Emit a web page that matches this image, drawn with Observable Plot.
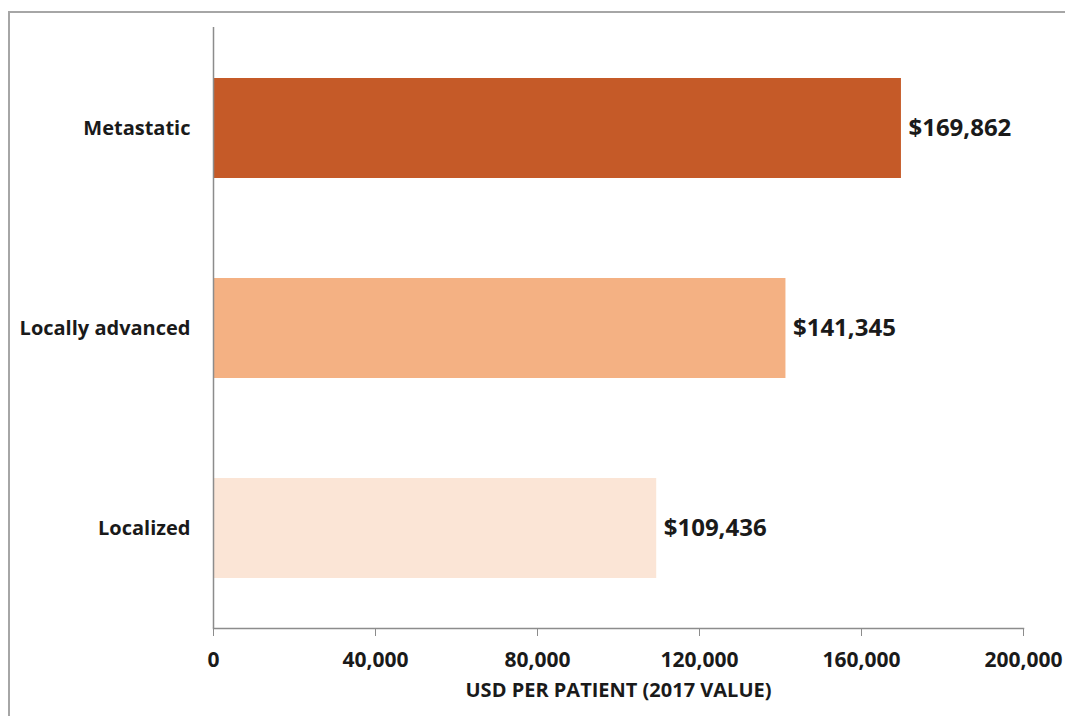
<!DOCTYPE html>
<html>
<head>
<meta charset="utf-8">
<script src="https://cdn.jsdelivr.net/npm/d3@7"></script>
<script src="https://cdn.jsdelivr.net/npm/@observablehq/plot@0.6"></script>
<style>
  html, body { margin: 0; padding: 0; background: #fff; overflow: hidden; }
  #wrap { position: relative; width: 1065px; height: 716px; overflow: hidden; }
  #frame { position: absolute; left: 8px; top: 11px; width: 1070px; height: 720px;
           border-top: 2px solid #a6a6a6; border-left: 2px solid #a6a6a6; box-sizing: border-box; }
  #chart { position: absolute; left: 0; top: 0; }
  svg { font-family: "Open Sans", "Noto Sans", sans-serif; }
</style>
</head>
<body>
<div id="wrap"><div id="frame"></div><div id="chart"></div></div>
<script>
const categories = ["Metastatic", "Locally advanced", "Localized"];
const values = [169862, 141345, 109436];
const barColors = ["#C55A28", "#F4B183", "#FBE5D6"];
const xTicks = [0, 40000, 80000, 120000, 160000, 200000];
const xTitle = "USD PER PATIENT (2017 VALUE)";

const data = categories.map((c, i) => ({category: c, value: values[i]}));
const fmt = d3.format(",");

const chart = Plot.plot({
  width: 1065,
  height: 716,
  marginLeft: 213,
  marginRight: 42,
  marginTop: 27,
  marginBottom: 88,
  style: {background: "transparent", color: "#1a1a1a"},
  x: {domain: [0, 200000], axis: null},
  y: {domain: categories, paddingInner: 0.5, paddingOuter: 0.25, axis: null},
  color: {domain: categories, range: barColors},
  marks: [
    Plot.barX(data, {y: "category", x: "value", fill: "category"}),
    Plot.text(data, {y: "category", x: "value", text: d => "$" + fmt(d.value),
      textAnchor: "start", dx: 7, fontSize: 24, fontWeight: "bold", fill: "#1a1a1a"}),
    Plot.axisY({tickSize: 0, tickPadding: 23, fontSize: 20, fontWeight: "bold", label: null}),
    Plot.axisX({ticks: xTicks, tickFormat: fmt, tickSize: 8, tickPadding: 16,
      fontSize: 21, fontWeight: "bold", label: null, stroke: "#8c8c8c"}),
    Plot.ruleX([0], {stroke: "#8c8c8c", strokeWidth: 1.5}),
    Plot.frame({anchor: "bottom", stroke: "#8c8c8c", strokeWidth: 1.5}),
    Plot.text([xTitle], {frameAnchor: "bottom", dy: 68, fontSize: 20, fontWeight: "bold", fill: "#1a1a1a"})
  ]
});
document.getElementById("chart").appendChild(chart);
</script>
</body>
</html>
